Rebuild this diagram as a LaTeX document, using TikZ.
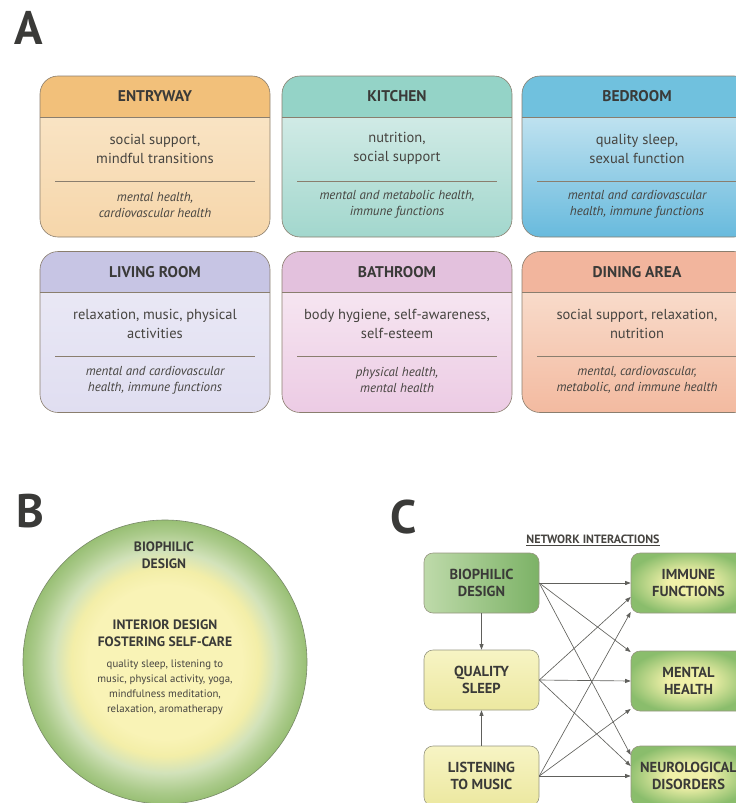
\documentclass[tikz,border=0pt]{standalone}
\usepackage{fontspec}
\setmainfont{PT Sans}
\usepackage{xcolor}
\usetikzlibrary{arrows.meta,positioning}

\definecolor{inkdark}{RGB}{58,58,56}
\definecolor{inktext}{RGB}{70,68,64}
\definecolor{cardline}{RGB}{138,126,110}
\definecolor{entryhead}{RGB}{242,192,122}
\definecolor{entrytop}{RGB}{250,232,204}
\definecolor{entrybot}{RGB}{246,214,170}
\definecolor{kitchenhead}{RGB}{148,211,199}
\definecolor{kitchentop}{RGB}{224,241,238}
\definecolor{kitchenbot}{RGB}{162,215,205}
\definecolor{bedhead}{RGB}{112,193,222}
\definecolor{bedtop}{RGB}{220,239,246}
\definecolor{bedbot}{RGB}{104,186,221}
\definecolor{livinghead}{RGB}{199,197,228}
\definecolor{livingtop}{RGB}{236,235,246}
\definecolor{livingbot}{RGB}{224,222,241}
\definecolor{bathhead}{RGB}{227,193,221}
\definecolor{bathtop}{RGB}{249,238,245}
\definecolor{bathbot}{RGB}{236,203,228}
\definecolor{dininghead}{RGB}{242,181,157}
\definecolor{diningtop}{RGB}{250,230,216}
\definecolor{diningbot}{RGB}{243,186,160}
\definecolor{bcore}{RGB}{249,243,182}
\definecolor{byellow}{RGB}{243,238,168}
\definecolor{blight}{RGB}{210,226,186}
\definecolor{bgreen}{RGB}{170,202,138}
\definecolor{bedge}{RGB}{152,191,116}
\definecolor{ringline}{RGB}{120,136,104}
\definecolor{boxline}{RGB}{150,150,128}
\definecolor{arrowgray}{RGB}{96,96,92}
\definecolor{sleeptop}{RGB}{247,244,196}
\definecolor{sleepbot}{RGB}{236,232,160}
\definecolor{bioleft}{RGB}{190,218,170}
\definecolor{bioright}{RGB}{124,178,102}
\definecolor{oyellow}{RGB}{240,240,168}
\definecolor{ogreen}{RGB}{138,189,108}

% path box is the central 50bp square, so the rim sits at 25bp
\pgfdeclareradialshading{biocircle}{\pgfpoint{0bp}{0bp}}{color(0bp)=(bcore); color(13.5bp)=(bcore); color(16.5bp)=(byellow); color(19.5bp)=(blight); color(23bp)=(bgreen); color(25bp)=(bedge); color(50bp)=(bedge)}
\pgfdeclareradialshading{outcome}{\pgfpoint{0bp}{0bp}}{color(0bp)=(oyellow); color(9bp)=(oyellow); color(27bp)=(ogreen); color(50bp)=(ogreen)}

\tikzset{
  paneltag/.style={font=\bfseries\fontsize{47}{47}\selectfont, text=inkdark, inner sep=0pt},
  card/.style n args={3}{draw=cardline, line width=0.6pt, rounded corners=18pt,
    minimum width=230pt, minimum height=161pt, inner sep=0pt, top color=#2, bottom color=#3,
    path picture={
      \fill[#1, sharp corners] (path picture bounding box.north west) rectangle ([yshift=-41pt]path picture bounding box.north east);
      \draw[cardline, line width=0.6pt, sharp corners] ([yshift=-41pt]path picture bounding box.north west) -- ([yshift=-41pt]path picture bounding box.north east);
      \draw[cardline, line width=0.5pt, sharp corners] ([xshift=15pt,yshift=-105pt]path picture bounding box.north west) -- ([xshift=-15pt,yshift=-105pt]path picture bounding box.north east);
    }},
  cardtitle/.style={font=\bfseries\fontsize{15.5}{17}\selectfont, text=inkdark},
  cardtext/.style={font=\fontsize{14.5}{19}\selectfont, text=inktext, align=center},
  cardeffect/.style={font=\itshape\fontsize{13}{16}\selectfont, text=inktext, align=center},
  ringtitle/.style={font=\bfseries\fontsize{13.6}{16.5}\selectfont, text=inkdark, align=center},
  ringtext/.style={font=\fontsize{10.8}{15}\selectfont, text=inktext, align=center},
  srcbox/.style={draw=boxline, line width=0.6pt, rounded corners=9pt, minimum width=115pt, minimum height=60pt,
    inner sep=0pt, align=center, font=\bfseries\fontsize{14.5}{17}\selectfont, text=inkdark},
  outbox/.style={srcbox, shading=outcome},
  link/.style={draw=arrowgray, line width=0.65pt, -{Triangle[length=5.5pt,width=4pt]}},
}

\begin{document}
\begin{tikzpicture}[x=1pt, y=-1pt]
  \useasboundingbox (0,0) rectangle (736,803);
  \clip (0,0) rectangle (736,803);

  % panel A
  \node[paneltag] (tagA) at (29,28) {A};
  \node[card={entryhead}{entrytop}{entrybot}] (entry) at (155,156.5) {};
  \node[card={kitchenhead}{kitchentop}{kitchenbot}] (kitchen) at (397,156.5) {};
  \node[card={bedhead}{bedtop}{bedbot}] (bedroom) at (637,156.5) {};
  \node[card={livinghead}{livingtop}{livingbot}] (living) at (155,332) {};
  \node[card={bathhead}{bathtop}{bathbot}] (bath) at (397,332) {};
  \node[card={dininghead}{diningtop}{diningbot}] (dining) at (637,332) {};

  \node[cardtitle] (entry-title) at ([yshift=-20.5pt]entry.north) {ENTRYWAY};
  \node[cardtext] (entry-text) at ([yshift=-73pt]entry.north) {social support,\\mindful transitions};
  \node[cardeffect] (entry-effect) at ([yshift=-129pt]entry.north) {mental health,\\cardiovascular health};

  \node[cardtitle] (kitchen-title) at ([yshift=-20.5pt]kitchen.north) {KITCHEN};
  \node[cardtext] (kitchen-text) at ([yshift=-73pt]kitchen.north) {nutrition,\\social support};
  \node[cardeffect] (kitchen-effect) at ([yshift=-129pt]kitchen.north) {mental and metabolic health,\\immune functions};

  \node[cardtitle] (bedroom-title) at ([yshift=-20.5pt]bedroom.north) {BEDROOM};
  \node[cardtext] (bedroom-text) at ([yshift=-73pt]bedroom.north) {quality sleep,\\sexual function};
  \node[cardeffect] (bedroom-effect) at ([yshift=-129pt]bedroom.north) {mental and cardiovascular\\health, immune functions};

  \node[cardtitle] (living-title) at ([yshift=-20.5pt]living.north) {LIVING ROOM};
  \node[cardtext] (living-text) at ([yshift=-73pt]living.north) {relaxation, music, physical\\activities};
  \node[cardeffect] (living-effect) at ([yshift=-129pt]living.north) {mental and cardiovascular\\health, immune functions};

  \node[cardtitle] (bath-title) at ([yshift=-20.5pt]bath.north) {BATHROOM};
  \node[cardtext] (bath-text) at ([yshift=-73pt]bath.north) {body hygiene, self-awareness,\\self-esteem};
  \node[cardeffect] (bath-effect) at ([yshift=-129pt]bath.north) {physical health,\\mental health};

  \node[cardtitle] (dining-title) at ([yshift=-20.5pt]dining.north) {DINING AREA};
  \node[cardtext] (dining-text) at ([yshift=-73pt]dining.north) {social support, relaxation,\\nutrition};
  \node[cardeffect] (dining-effect) at ([yshift=-129pt]dining.north) {mental, cardiovascular,\\metabolic, and immune health};

  % panel B
  \node[paneltag] (tagB) at (30,511) {B};
  \node[circle, draw=ringline, line width=0.6pt, minimum size=284pt, shading=biocircle] (bioring) at (165,662) {};
  \node[ringtitle] (bio-label) at (164,555) {BIOPHILIC\\DESIGN};
  \node[ringtitle] (care-label) at (165,633) {INTERIOR DESIGN\\FOSTERING SELF-CARE};
  \node[ringtext] (care-list) at (165,687) {quality sleep, listening to\\music, physical activity, yoga,\\mindfulness meditation,\\relaxation, aromatherapy};

  % panel C
  \node[paneltag] (tagC) at (404,517) {C};
  \node[font=\bfseries\fontsize{12}{13}\selectfont, text=inktext] (net-title) at (593,540) {\underline{NETWORK INTERACTIONS}};
  \node[srcbox, left color=bioleft, right color=bioright] (bio) at (481.5,583) {BIOPHILIC\\DESIGN};
  \node[srcbox, top color=sleeptop, bottom color=sleepbot] (sleep) at (481.5,680) {QUALITY\\SLEEP};
  \node[srcbox, top color=sleeptop, bottom color=sleepbot] (music) at (481.5,776) {LISTENING\\TO MUSIC};
  \node[outbox] (immune) at (688.5,583) {IMMUNE\\FUNCTIONS};
  \node[outbox] (mental) at (688.5,681) {MENTAL\\HEALTH};
  \node[outbox] (neuro) at (688.5,776) {NEUROLOGICAL\\DISORDERS};

  \draw[link] (bio) -- (sleep);
  \draw[link] (music) -- (sleep);
  \draw[link] (bio.east) -- (immune.west);
  \draw[link] (bio.east) -- ([yshift=29pt]mental.west);
  \draw[link] (bio.east) -- ([yshift=21pt]neuro.west);
  \draw[link] (sleep.east) -- ([yshift=-14pt]immune.west);
  \draw[link] (sleep.east) -- (mental.west);
  \draw[link] (sleep.east) -- ([yshift=10pt]neuro.west);
  \draw[link] (music.east) -- ([yshift=-29pt]immune.west);
  \draw[link] (music.east) -- ([yshift=-28pt]mental.west);
  \draw[link] (music.east) -- (neuro.west);
\end{tikzpicture}
\end{document}
